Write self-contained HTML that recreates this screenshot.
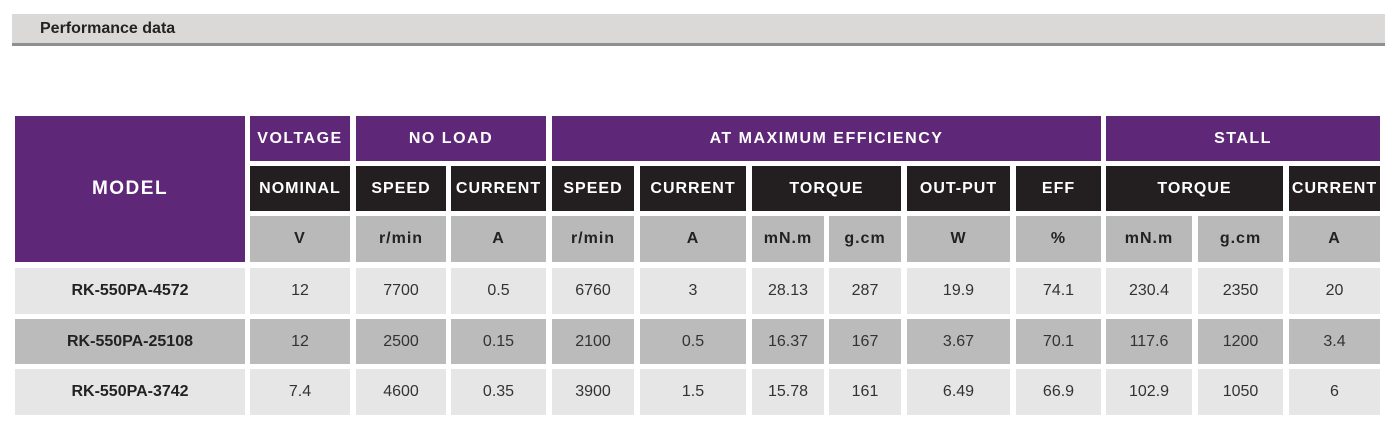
<!DOCTYPE html><html><head><style>
body{margin:0;width:1400px;height:434px;background:#fff;position:relative;overflow:hidden;font-family:"Liberation Sans",sans-serif}
.hb{position:absolute;left:12px;top:14px;width:1373px;height:29px;background:#dad9d7;border-bottom:3px solid #8e8f91}
.hb span{position:absolute;left:28px;top:6px;font-size:16px;font-weight:bold;color:#222}
.c{position:absolute;display:flex;align-items:center;justify-content:center;box-sizing:border-box}
.p{background:#5e2778;color:#fff;font-weight:bold;font-size:16px;letter-spacing:1.5px}
.k{background:#231f20;color:#fff;font-weight:bold;font-size:16px;letter-spacing:1px}
.g{background:#bab9b9;color:#222;font-weight:bold;font-size:16px;letter-spacing:1px}
.l{background:#e6e6e6;color:#333;font-size:16px}
.m{background:#bcbbbb;color:#333;font-size:16px}
.b{font-weight:bold;color:#222}
</style></head><body>
<div class="hb"><span>Performance data</span></div>
<div id="t"></div>
<script>
var cols=[[15,245],[250,350],[356,446],[451,546],[552,634],[640,746],[752,824],[829,901],[907,1010],[1016,1101],[1106,1192],[1198,1283],[1289,1380]];
var rows=[[116,161],[166,211],[216,262],[268,314],[319,364],[369,415]];
var h='';
function cell(c1,c2,r1,r2,cls,txt,st){var x=cols[c1][0],w=cols[c2][1]-x,y=rows[r1][0],hh=rows[r2][1]-y;h+='<div class="c '+cls+'" style="left:'+x+'px;top:'+y+'px;width:'+w+'px;height:'+hh+'px;'+(st||'')+'">'+txt+'</div>';}
cell(0,0,0,2,'p','MODEL','font-size:19px');
cell(1,1,0,0,'p','VOLTAGE');cell(2,3,0,0,'p','NO LOAD');cell(4,9,0,0,'p','AT MAXIMUM EFFICIENCY');cell(10,12,0,0,'p','STALL');
cell(1,1,1,1,'k','NOMINAL');cell(2,2,1,1,'k','SPEED');cell(3,3,1,1,'k','CURRENT');cell(4,4,1,1,'k','SPEED');cell(5,5,1,1,'k','CURRENT');cell(6,7,1,1,'k','TORQUE');cell(8,8,1,1,'k','OUT-PUT');cell(9,9,1,1,'k','EFF');cell(10,11,1,1,'k','TORQUE');cell(12,12,1,1,'k','CURRENT');
var u=['V','r/min','A','r/min','A','mN.m','g.cm','W','%','mN.m','g.cm','A'];
for(var i=0;i<12;i++)cell(i+1,i+1,2,2,'g',u[i]);
var d=[['RK-550PA-4572','12','7700','0.5','6760','3','28.13','287','19.9','74.1','230.4','2350','20'],
['RK-550PA-25108','12','2500','0.15','2100','0.5','16.37','167','3.67','70.1','117.6','1200','3.4'],
['RK-550PA-3742','7.4','4600','0.35','3900','1.5','15.78','161','6.49','66.9','102.9','1050','6']];
for(var r=0;r<3;r++)for(var j=0;j<13;j++)cell(j,j,r+3,r+3,(r==1?'m':'l')+(j==0?' b':''),d[r][j]);
document.getElementById('t').innerHTML=h;
</script>
</body></html>
